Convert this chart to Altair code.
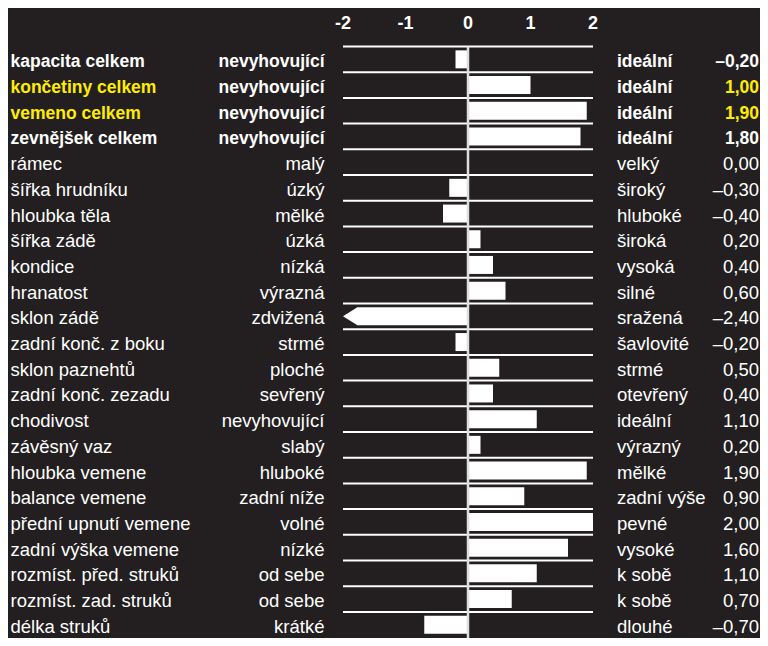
import altair as alt
import pandas as pd

# ---------------- data ----------------
traits = [
    "kapacita celkem", "končetiny celkem", "vemeno celkem", "zevnějšek celkem",
    "rámec", "šířka hrudníku", "hloubka těla", "šířka zádě", "kondice",
    "hranatost", "sklon zádě", "zadní konč. z boku", "sklon paznehtů",
    "zadní konč. zezadu", "chodivost", "závěsný vaz", "hloubka vemene",
    "balance vemene", "přední upnutí vemene", "zadní výška vemene",
    "rozmíst. před. struků", "rozmíst. zad. struků", "délka struků",
]
low_labels = [
    "nevyhovující", "nevyhovující", "nevyhovující", "nevyhovující",
    "malý", "úzký", "mělké", "úzká", "nízká", "výrazná", "zdvižená", "strmé",
    "ploché", "sevřený", "nevyhovující", "slabý", "hluboké", "zadní níže",
    "volné", "nízké", "od sebe", "od sebe", "krátké",
]
high_labels = [
    "ideální", "ideální", "ideální", "ideální",
    "velký", "široký", "hluboké", "široká", "vysoká", "silné", "sražená",
    "šavlovité", "strmé", "otevřený", "ideální", "výrazný", "mělké",
    "zadní výše", "pevné", "vysoké", "k sobě", "k sobě", "dlouhé",
]
scores = [
    -0.20, 1.00, 1.90, 1.80, 0.00, -0.30, -0.40, 0.20, 0.40, 0.60, -2.40,
    -0.20, 0.50, 0.40, 1.10, 0.20, 1.90, 0.90, 2.00, 1.60, 1.10, 0.70, -0.70,
]
bold_rows = [0, 1, 2, 3]
highlight_rows = [1, 2]
tick_values = [-2, -1, 0, 1, 2]
tick_labels = ["-2", "-1", "0", "1", "2"]

# ---------------- style ----------------
BG = "#231f20"
WHITE = "#ffffff"
YELLOW = "#ffed00"
ZERO_COL = "#dedede"
FONT = "Liberation Sans, Arial, sans-serif"
TICK_FONT = "Liberation Sans, Arial, sans-serif"
W, H = 752, 630
LIM = 2.0
X_RANGE = [335, 585]
PX_PER_UNIT = (X_RANGE[1] - X_RANGE[0]) / (2 * LIM)
ARROW_PX = 14
ROW0 = 38.5
STEP = 25.7
BAR_H = 18
FONT_SIZE = 18.5
BOLD_SIZE = 17.5
TEXT_DY = 20.8
n = len(traits)


def fmt(v):
    s = f"{abs(v):.2f}".replace(".", ",")
    return "\u2013" + s if v < 0 else s


df = pd.DataFrame({
    "i": list(range(n)),
    "trait": traits,
    "low": low_labels,
    "high": high_labels,
    "v": scores,
    "vtxt": [fmt(v) for v in scores],
    "bold": [i in bold_rows for i in range(n)],
    "hl": [i in highlight_rows for i in range(n)],
})
ticks = pd.DataFrame({"t": tick_values, "lab": tick_labels})
zero = pd.DataFrame({"z": [0]})

xscale = alt.Scale(domain=[-LIM, LIM], range=X_RANGE, nice=False, zero=False)
yscale = alt.Scale(domain=list(range(n)), range=[ROW0, ROW0 + n * STEP],
                   paddingInner=0, paddingOuter=0)

Y_TOP = alt.Y("i:O", bandPosition=0, scale=yscale, axis=None)
Y_MID = alt.Y("i:O", scale=yscale, axis=None)

arrow_units = ARROW_PX / PX_PER_UNIT
base = alt.Chart(df).transform_calculate(
    xb=f"datum.v < {-LIM} ? {-LIM + arrow_units} : (datum.v > {LIM} ? {LIM - arrow_units} : datum.v)"
)

# horizontal row lines
hlines = alt.Chart(df).mark_rule(color=WHITE, strokeWidth=2).encode(
    y=Y_TOP,
    x=alt.X(datum=-LIM, type="quantitative", scale=xscale, axis=None),
    x2=alt.X2(datum=LIM),
)

bars = base.mark_bar(height=BAR_H, color=WHITE).encode(
    x=alt.X("xb:Q", scale=xscale, axis=None),
    y=Y_MID,
)

arrow_left = base.transform_filter(f"datum.v < {-LIM}").mark_point(
    shape="M-0.78,0L0.82,-1L0.82,1Z", size=(BAR_H / 2) ** 2 * 4, filled=True,
    color=WHITE, opacity=1, strokeWidth=0, xOffset=-ARROW_PX / 2,
).encode(x=alt.X("xb:Q", scale=xscale, axis=None), y=Y_MID)

arrow_right = base.transform_filter(f"datum.v > {LIM}").mark_point(
    shape="M0.78,0L-0.82,-1L-0.82,1Z", size=(BAR_H / 2) ** 2 * 4, filled=True,
    color=WHITE, opacity=1, strokeWidth=0, xOffset=ARROW_PX / 2,
).encode(x=alt.X("xb:Q", scale=xscale, axis=None), y=Y_MID)

zline = alt.Chart(zero).mark_rule(color=ZERO_COL, strokeWidth=2.5).encode(
    x=alt.X("z:Q", scale=xscale, axis=None),
    y=alt.value(ROW0),
    y2=alt.value(H),
)

tick_text = alt.Chart(ticks).mark_text(
    font=TICK_FONT, fontSize=18, fontWeight="bold", color=WHITE, baseline="middle"
).encode(
    x=alt.X("t:Q", scale=xscale, axis=None),
    y=alt.value(16),
    text="lab:N",
)


def col_layer(field, xpos, align, bold, highlight):
    color = (alt.condition("datum.hl", alt.value(YELLOW), alt.value(WHITE))
             if highlight else alt.value(WHITE))
    return alt.Chart(df).transform_filter(
        "datum.bold" if bold else "!datum.bold"
    ).mark_text(
        align=align, baseline="alphabetic", font=FONT,
        fontSize=BOLD_SIZE if bold else FONT_SIZE,
        fontWeight="bold" if bold else "normal", dy=TEXT_DY,
    ).encode(
        x=alt.value(xpos),
        y=Y_TOP,
        text=f"{field}:N",
        color=color,
    )


text_layers = []
for b in (True, False):
    text_layers += [
        col_layer("trait", 2.5, "left", b, True),
        col_layer("low", 316.5, "right", b, False),
        col_layer("high", 609, "left", b, False),
        col_layer("vtxt", 751, "right", b, True),
    ]

chart = alt.layer(
    hlines, bars, arrow_left, arrow_right, zline, tick_text, *text_layers
).properties(
    width=W, height=H, background=BG, padding=0,
    autosize=alt.AutoSizeParams(type="none"),
).configure_view(stroke=None)

chart.save("out.html", embed_options={"renderer": "svg", "actions": False})
